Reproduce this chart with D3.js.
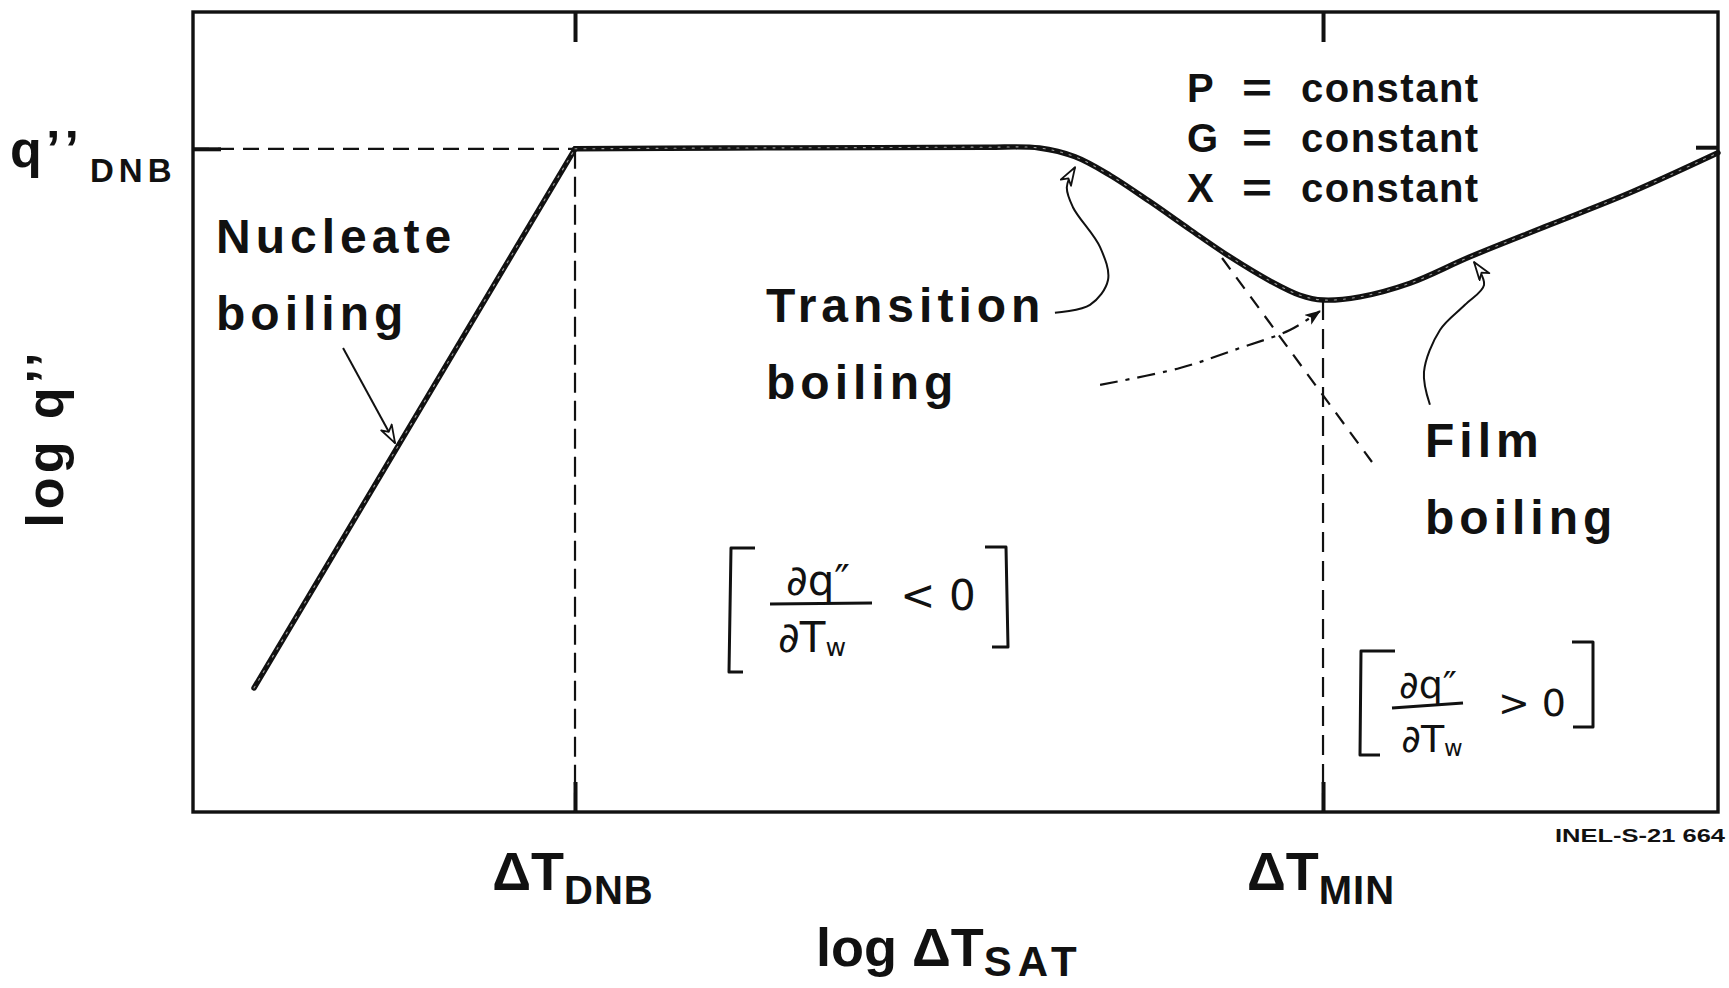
<!DOCTYPE html>
<html>
<head>
<meta charset="utf-8">
<script src="https://cdn.jsdelivr.net/npm/d3@7"></script>
<style>
  html, body { margin: 0; padding: 0; background: #fff; }
  svg { display: block; }
  text { font-family: "Liberation Sans", Arial, Helvetica, sans-serif; font-weight: bold; fill: #111; }
  .hand { font-family: "DejaVu Sans", sans-serif; font-weight: normal; fill: #111; }
</style>
</head>
<body>
<svg id="chart" width="1729" height="988"></svg>
<script>
// Boiling curve at constant P, G and X, on log–log axes (arbitrary units 0–100)
const nucleateX   = [4.0, 25.05];
const nucleateY   = [15.5, 82.9];
const plateauX    = [25.05, 35, 45, 52, 55.5];
const plateauY    = [82.9, 83.0, 83.05, 83.1, 83.0];
const transitionX = [57.84, 60.13, 62.75, 65.38, 68.0, 70.62, 72.59, 74.1];
const transitionY = [81.9, 79.6, 76.3, 72.8, 69.4, 66.4, 64.6, 64.0];
const filmX       = [76.52, 79.8, 83.74, 88.98, 94.23, 100];
const filmY       = [64.4, 66.1, 69.4, 73.4, 77.4, 82.4];

// extrapolated branches around the minimum film boiling point
const filmExtX       = [59.48, 64.72, 68.66, 71.93, 73.9];
const filmExtY       = [53.4, 55.5, 58.0, 60.25, 62.6];
const transitionExtX = [67.48, 77.31];
const transitionExtY = [69.25, 43.75];

// characteristic points (axis ticks)
const xTickValues = [25.05, 74.1];
const xTickSubs   = ["DNB", "MIN"];
const yTickValues = [82.9];
const yTickSubs   = ["DNB"];

// leader arrows for the regime labels
const nucleateArrowX   = [9.84, 13.25];
const nucleateArrowY   = [58.0, 46.1];
const transitionArrowX = [56.52, 58.82, 60.0, 59.48, 57.7, 57.3, 57.84];
const transitionArrowY = [62.4, 63.4, 66.5, 70.6, 75.6, 78.1, 80.6];
const filmArrowX       = [81.11, 80.72, 81.77, 83.41, 84.66, 84.0];
const filmArrowY       = [50.9, 55.0, 60.25, 63.4, 65.9, 68.75];

const svg = d3.select("#chart");
const plotLeft = 193, plotRight = 1718, plotTop = 12, plotBottom = 812;

const x = d3.scaleLinear().domain([0, 100]).range([plotLeft, plotRight]);
const y = d3.scaleLinear().domain([0, 100]).range([plotBottom, plotTop]);

const zip = (xs, ys) => xs.map((v, i) => [v, ys[i]]);
const lineLin = d3.line().x(d => x(d[0])).y(d => y(d[1]));
const lineSmooth = d3.line().x(d => x(d[0])).y(d => y(d[1])).curve(d3.curveCatmullRom.alpha(0.5));

// markers
const defs = svg.append("defs");
defs.append("marker")
  .attr("id", "openHead").attr("markerUnits", "userSpaceOnUse")
  .attr("markerWidth", 24).attr("markerHeight", 16)
  .attr("refX", 19).attr("refY", 7).attr("orient", "auto")
  .append("path").attr("d", "M1,1 L19,7 L1,13 L6,7 Z")
  .attr("fill", "#fff").attr("stroke", "#111").attr("stroke-width", 1.8).attr("stroke-linejoin", "round");
defs.append("marker")
  .attr("id", "solidHead").attr("markerUnits", "userSpaceOnUse")
  .attr("markerWidth", 20).attr("markerHeight", 14)
  .attr("refX", 15).attr("refY", 6).attr("orient", "auto")
  .append("path").attr("d", "M0,0 L16,6 L0,12 L4,6 Z").attr("fill", "#111");

// frame
svg.append("rect")
  .attr("x", plotLeft).attr("y", plotTop).attr("width", plotRight - plotLeft).attr("height", plotBottom - plotTop)
  .attr("fill", "none").attr("stroke", "#111").attr("stroke-width", 3.4);

// inward tick marks at the characteristic points
const tickStyle = g => {
  g.select(".domain").remove();
  g.selectAll(".tick line").attr("stroke", "#111").attr("stroke-width", 4);
  g.selectAll(".tick text").remove();
};
svg.append("g").attr("transform", `translate(0,${plotTop})`)
  .call(d3.axisTop(x).tickValues(xTickValues).tickSize(-30).tickFormat(""))
  .call(tickStyle);
svg.append("g").attr("transform", `translate(0,${plotBottom})`)
  .call(d3.axisBottom(x).tickValues(xTickValues).tickSize(-30).tickFormat(""))
  .call(tickStyle);
svg.append("g").attr("transform", `translate(${plotLeft},0)`)
  .call(d3.axisLeft(y).tickValues(yTickValues).tickSize(-28).tickFormat(""))
  .call(tickStyle);
svg.append("g").attr("transform", `translate(${plotRight},0)`)
  .call(d3.axisRight(y).tickValues([plateauY[plateauY.length - 2]]).tickSize(-22).tickFormat(""))
  .call(tickStyle);

// dashed guides
const guides = svg.append("g").attr("fill", "none").attr("stroke", "#111").attr("stroke-width", 2.2);
guides.append("path")
  .attr("d", lineLin([[0, yTickValues[0]], [xTickValues[0], yTickValues[0]]]))
  .attr("stroke-dasharray", "16,9");
guides.append("path")
  .attr("d", lineLin([[xTickValues[0], yTickValues[0]], [xTickValues[0], 0]]))
  .attr("stroke-dasharray", "20,8");
guides.append("path")
  .attr("d", lineLin([[xTickValues[1], transitionY[transitionY.length - 1]], [xTickValues[1], 0]]))
  .attr("stroke-dasharray", "20,9");

// extrapolations
svg.append("path")
  .attr("d", lineSmooth(zip(filmExtX, filmExtY)))
  .attr("fill", "none").attr("stroke", "#111").attr("stroke-width", 2.2)
  .attr("stroke-dasharray", "18,8,4,8")
  .attr("marker-end", "url(#solidHead)");
svg.append("path")
  .attr("d", lineLin(zip(transitionExtX, transitionExtY)))
  .attr("fill", "none").attr("stroke", "#111").attr("stroke-width", 2.2)
  .attr("stroke-dasharray", "14,10");

// boiling curve
const nucleatePts = zip(nucleateX, nucleateY);
const upperPts = zip(plateauX, plateauY)
  .concat(zip(transitionX, transitionY))
  .concat(zip(filmX, filmY));
const curve = svg.append("g").attr("fill", "none");
[["#111", 5.4, null], ["#9a9a9a", 1.1, "2,7"]].forEach(([c, w, dash]) => {
  curve.append("path").attr("d", lineLin(nucleatePts))
    .attr("stroke", c).attr("stroke-width", w).attr("stroke-linecap", "round")
    .attr("stroke-dasharray", dash);
  curve.append("path").attr("d", lineSmooth(upperPts))
    .attr("stroke", c).attr("stroke-width", w).attr("stroke-linecap", "round")
    .attr("stroke-linejoin", "round").attr("stroke-dasharray", dash);
});

// leader arrows
const arrows = svg.append("g").attr("fill", "none").attr("stroke", "#111").attr("stroke-width", 2);
arrows.append("path").attr("d", lineLin(zip(nucleateArrowX, nucleateArrowY))).attr("marker-end", "url(#openHead)");
arrows.append("path").attr("d", lineSmooth(zip(transitionArrowX, transitionArrowY))).attr("marker-end", "url(#openHead)");
arrows.append("path").attr("d", lineSmooth(zip(filmArrowX, filmArrowY))).attr("marker-end", "url(#openHead)");

// axis tick labels
xTickValues.forEach((v, i) => {
  const t = svg.append("text").attr("x", x(v) - 2).attr("y", 890)
    .attr("text-anchor", "middle").attr("font-size", 54);
  t.append("tspan").text("ΔT");
  t.append("tspan").attr("font-size", 40).attr("dy", 14).attr("letter-spacing", 1).text(xTickSubs[i]);
});
yTickValues.forEach((v, i) => {
  const t = svg.append("text").attr("y", y(v) + 18).attr("font-size", 52);
  t.append("tspan").attr("x", 10).text("q");
  t.append("tspan").attr("x", 46).attr("letter-spacing", 6).text("’’");
  t.append("tspan").attr("x", 90).attr("y", y(v) + 33).attr("font-size", 33)
    .attr("letter-spacing", 5).text(yTickSubs[i]);
});

// axis titles
const xt = svg.append("text").attr("x", 816).attr("y", 966).attr("font-size", 54);
xt.append("tspan").text("log ΔT");
xt.append("tspan").attr("font-size", 42).attr("dy", 10).attr("letter-spacing", 6).text("SAT");
svg.append("text").attr("transform", "translate(63,438) rotate(-90)")
  .attr("text-anchor", "middle").attr("font-size", 52).attr("letter-spacing", 4).text("log q’’");

// regime labels
const region = (lines, px, py) => lines.forEach((s, i) =>
  svg.append("text").attr("x", px).attr("y", py + i * 77)
    .attr("font-size", 48).attr("letter-spacing", 5).text(s));
region(["Nucleate", "boiling"], 216, 253);
region(["Transition", "boiling"], 766, 322);
region(["Film", "boiling"], 1425, 457);

// constant parameters
["P", "G", "X"].forEach((s, i) => {
  const yy = 102 + i * 50;
  svg.append("text").attr("x", 1187).attr("y", yy).attr("font-size", 40).text(s);
  svg.append("text").attr("x", 1242).attr("y", yy).attr("font-size", 40).attr("font-weight", "normal")
    .attr("textLength", 30).attr("lengthAdjust", "spacingAndGlyphs").text("=");
  svg.append("text").attr("x", 1301).attr("y", yy).attr("font-size", 40).attr("letter-spacing", 1.5).text("constant");
});

// drawing number
svg.append("text").attr("x", 1555).attr("y", 842).attr("font-size", 19)
  .attr("textLength", 170).attr("lengthAdjust", "spacingAndGlyphs").text("INEL-S-21  664");

// slope conditions in brackets
function condition(o) {
  const g = svg.append("g");
  g.append("path").attr("d", o.lb).attr("fill", "none").attr("stroke", "#111").attr("stroke-width", 3).attr("stroke-linejoin", "round");
  g.append("path").attr("d", o.rb).attr("fill", "none").attr("stroke", "#111").attr("stroke-width", 3).attr("stroke-linejoin", "round");
  g.append("path").attr("d", o.bar).attr("fill", "none").attr("stroke", "#111").attr("stroke-width", 3);
  g.append("text").attr("class", "hand").attr("x", o.nx).attr("y", o.ny)
    .attr("text-anchor", "middle").attr("font-size", o.fs).text("∂q″");
  const d = g.append("text").attr("class", "hand").attr("x", o.dx).attr("y", o.dy)
    .attr("text-anchor", "middle").attr("font-size", o.fs);
  d.append("tspan").text("∂T");
  d.append("tspan").attr("font-size", o.fs * 0.6).attr("dy", 4).text("w");
  g.append("text").attr("class", "hand").attr("x", o.sx).attr("y", o.sy)
    .attr("text-anchor", "middle").attr("font-size", o.fs).text(o.sign + " 0");
}
condition({
  lb: "M755,548 L731,548 L729,672 L743,672",
  rb: "M985,547 L1006,547 L1008,647 L992,647",
  bar: "M770,604 L872,603",
  nx: 818, ny: 595, dx: 812, dy: 652, fs: 42,
  sx: 938, sy: 610, sign: "<"
});
condition({
  lb: "M1395,651 L1361,651 L1360,755 L1380,755",
  rb: "M1572,642 L1593,642 L1593,727 L1573,727",
  bar: "M1392,708 L1463,703",
  nx: 1428, ny: 698, dx: 1432, dy: 752, fs: 38,
  sx: 1532, sy: 716, sign: ">"
});
</script>
</body>
</html>
